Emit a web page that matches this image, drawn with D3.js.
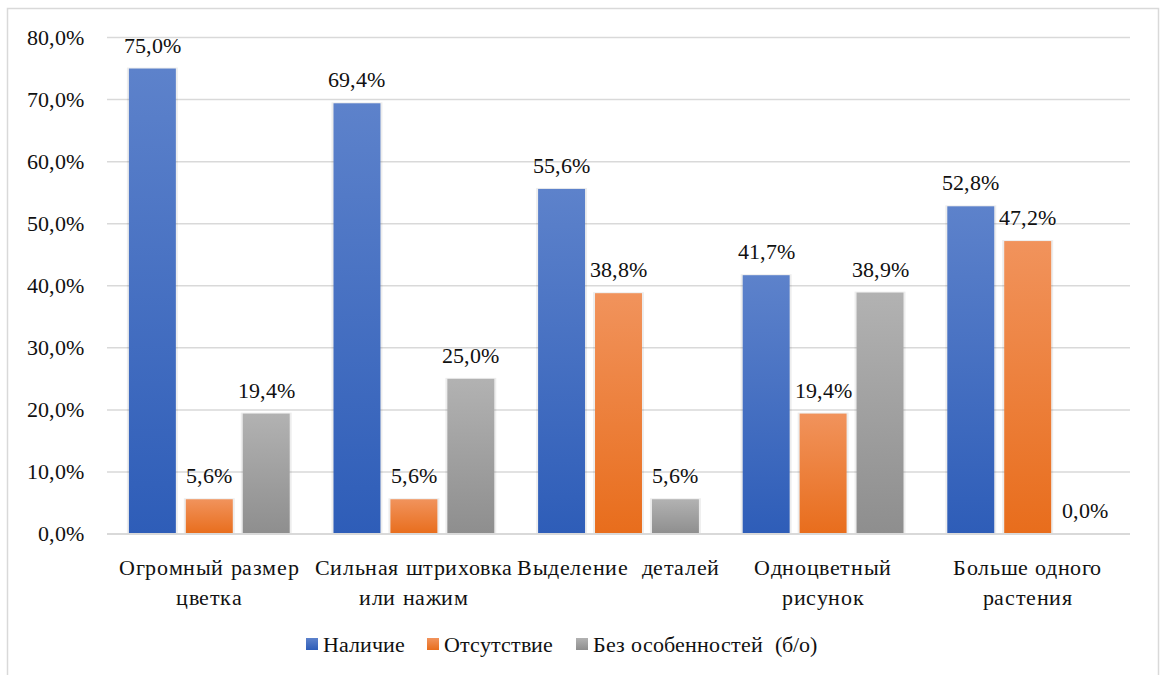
<!DOCTYPE html>
<html lang="ru">
<head>
<meta charset="utf-8">
<script src="https://cdn.jsdelivr.net/npm/d3@7"></script>
<style>
  @font-face { font-family: "ChartSerif"; src: local("Liberation Serif"), local("LiberationSerif"), local("Times New Roman"); }
  #chart text { font-family: "ChartSerif", "Liberation Serif", "Times New Roman", serif; }
</style>
</head>
<body style="margin:0;background:#fff">
<svg id="chart" width="1163" height="675"></svg>
<script>
const categories = [
  ["Огромный размер", "цветка"],
  ["Сильная штриховка", "или нажим"],
  ["Выделение  деталей"],
  ["Одноцветный", "рисунок"],
  ["Больше одного", "растения"]
];
const seriesNames = ["Наличие", "Отсутствие", "Без особенностей  (б/о)"];
const nalichie = [75.0, 69.4, 55.6, 41.7, 52.8];
const otsutstvie = [5.6, 5.6, 38.8, 19.4, 47.2];
const bezOsob = [19.4, 25.0, 5.6, 38.9, 0.0];
const yTicks = [0, 10, 20, 30, 40, 50, 60, 70, 80];

const width = 1163, height = 675;
const margin = { top: 37.5, right: 33, bottom: 141, left: 107 };
const FONT = "Liberation Serif";

const svg = d3.select("#chart").attr("font-family", FONT);

const colors = [
  { top: "#5d82cb", bottom: "#2e5db8" },
  { top: "#f1935c", bottom: "#e86d1c" },
  { top: "#b2b2b2", bottom: "#8e8e8e" }
];

const defs = svg.append("defs");
colors.forEach((c, i) => {
  const g = defs.append("linearGradient")
    .attr("id", "grad" + i)
    .attr("x1", 0).attr("y1", 0).attr("x2", 0).attr("y2", 1);
  g.append("stop").attr("offset", "0%").attr("stop-color", c.top);
  g.append("stop").attr("offset", "100%").attr("stop-color", c.bottom);
});

// chart border
svg.append("rect")
  .attr("x", 7.5).attr("y", 8.5)
  .attr("width", 1151).attr("height", 700)
  .attr("fill", "#fff")
  .attr("stroke", "#d9d9d9")
  .attr("stroke-width", 1.5);

const plotBottom = height - margin.bottom;

const y = d3.scaleLinear()
  .domain([0, 80])
  .range([plotBottom, margin.top]);

const x0 = d3.scaleBand()
  .domain(d3.range(categories.length))
  .range([margin.left, width - margin.right]);

const outer = x0.bandwidth() * 0.107;
const x1 = d3.scaleBand()
  .domain(d3.range(seriesNames.length))
  .range([outer, x0.bandwidth() - outer])
  .paddingInner(0.175);

// gridlines
svg.append("g")
  .selectAll("line")
  .data(yTicks.filter(d => d > 0))
  .join("line")
  .attr("x1", margin.left)
  .attr("x2", width - margin.right)
  .attr("y1", d => y(d))
  .attr("y2", d => y(d))
  .attr("stroke", "#d9d9d9")
  .attr("stroke-width", 1.5);

// y axis labels
const fmt = d => d.toFixed(1).replace(".", ",") + "%";
svg.append("g")
  .selectAll("text")
  .data(yTicks)
  .join("text")
  .attr("x", 84)
  .attr("y", d => y(d) + 7)
  .attr("text-anchor", "end")
  .attr("font-size", 22)
  .attr("fill", "#111")
  .text(fmt);

const seriesData = [nalichie, otsutstvie, bezOsob];

const groups = svg.append("g")
  .selectAll("g")
  .data(categories.map((c, i) => i))
  .join("g")
  .attr("transform", i => `translate(${x0(i)},0)`);

// soft shadow behind bars
groups.selectAll("rect.sh")
  .data(i => seriesData.map((s, k) => ({ k, v: s[i] })).filter(d => d.v > 0))
  .join("rect")
  .attr("class", "sh")
  .attr("x", d => x1(d.k) - 2)
  .attr("y", d => y(d.v) - 1)
  .attr("width", x1.bandwidth() + 4)
  .attr("height", d => plotBottom - y(d.v) + 1)
  .attr("fill", "#000")
  .attr("opacity", 0.07);

groups.selectAll("rect.bar")
  .data(i => seriesData.map((s, k) => ({ k, v: s[i] })))
  .join("rect")
  .attr("class", "bar")
  .attr("x", d => x1(d.k))
  .attr("y", d => y(d.v))
  .attr("width", x1.bandwidth())
  .attr("height", d => plotBottom - y(d.v))
  .attr("fill", d => `url(#grad${d.k})`);

groups.selectAll("text.val")
  .data(i => seriesData.map((s, k) => ({ k, v: s[i] })))
  .join("text")
  .attr("class", "val")
  .attr("x", d => x1(d.k) + x1.bandwidth() / 2)
  .attr("y", d => y(d.v) - 16)
  .attr("text-anchor", "middle")
  .attr("font-size", 22)
  .attr("fill", "#111")
  .text(d => fmt(d.v));

// x axis line
svg.append("line")
  .attr("x1", margin.left)
  .attr("x2", width - margin.right)
  .attr("y1", plotBottom)
  .attr("y2", plotBottom)
  .attr("stroke", "#d9d9d9")
  .attr("stroke-width", 2);

// category labels
const catText = svg.append("g")
  .selectAll("text")
  .data(categories)
  .join("text")
  .attr("x", (d, i) => x0(i) + x0.bandwidth() / 2)
  .attr("y", plotBottom + 41)
  .attr("text-anchor", "middle")
  .attr("font-size", 22)
  .attr("letter-spacing", 0.6)
  .attr("fill", "#111")
  .attr("xml:space", "preserve");

catText.selectAll("tspan")
  .data(d => d)
  .join("tspan")
  .attr("x", function () { return d3.select(this.parentNode).attr("x"); })
  .attr("dy", (d, i) => i === 0 ? 0 : 30)
  .text(d => d);

// legend
const legendX = [306, 427, 576];
const legend = svg.append("g")
  .selectAll("g")
  .data(seriesNames)
  .join("g")
  .attr("transform", (d, i) => `translate(${legendX[i]},645)`);

legend.append("rect")
  .attr("x", 0).attr("y", -7)
  .attr("width", 12).attr("height", 12)
  .attr("fill", (d, i) => `url(#grad${i})`);

legend.append("text")
  .attr("x", 17)
  .attr("y", 7)
  .attr("font-size", 22)
  .attr("fill", "#111")
  .attr("xml:space", "preserve")
  .text(d => d);
</script>
</body>
</html>
